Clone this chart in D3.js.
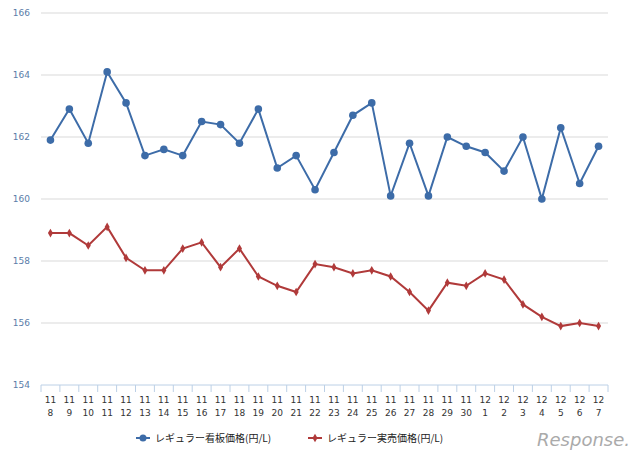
<!DOCTYPE html><html><head><meta charset="utf-8"><script src="https://cdn.jsdelivr.net/npm/d3@7"></script>
<style>body{margin:0;background:#fff}</style></head><body><svg id="c" width="640" height="460"></svg>
<script>
const months=["11","11","11","11","11","11","11","11","11","11","11","11","11","11","11","11","11","11","11","11","11","11","11","12","12","12","12","12","12","12"];
const days=["8","9","10","11","12","13","14","15","16","17","18","19","20","21","22","23","24","25","26","27","28","29","30","1","2","3","4","5","6","7"];
const signPrice=[161.9,162.9,161.8,164.1,163.1,161.4,161.6,161.4,162.5,162.4,161.8,162.9,161.0,161.4,160.3,161.5,162.7,163.1,160.1,161.8,160.1,162.0,161.7,161.5,160.9,162.0,160.0,162.3,160.5,161.7];
const actualPrice=[158.9,158.9,158.5,159.1,158.1,157.7,157.7,158.4,158.6,157.8,158.4,157.5,157.2,157.0,157.9,157.8,157.6,157.7,157.5,157.0,156.4,157.3,157.2,157.6,157.4,156.6,156.2,155.9,156.0,155.9];
const yTicks=[154,156,158,160,162,164,166];
const seriesNames=["レギュラー看板価格(円/L)","レギュラー実売価格(円/L)"];
const svg=d3.select("#c");
const idx=d3.range(days.length);
const x=d3.scaleBand().domain(idx).range([41,608]);
const y=d3.scaleLinear().domain([154,166]).range([385,13]);
const cx=i=>x(i)+x.bandwidth()/2;
svg.append("g").selectAll("line").data(yTicks.slice(1)).join("line")
 .attr("x1",41).attr("x2",608).attr("y1",d=>y(d)).attr("y2",d=>y(d)).attr("stroke","#d9d9d9").attr("stroke-width",1);
svg.append("g").selectAll("text").data(yTicks).join("text").attr("x",30).attr("y",d=>y(d)+3)
 .attr("text-anchor","end").attr("font-family","DejaVu Sans").attr("font-size",9).attr("fill","#5a7ca8").text(d=>d);
svg.append("line").attr("x1",41).attr("x2",608).attr("y1",385).attr("y2",385).attr("stroke","#bcd0e6");
svg.append("g").selectAll("line").data(d3.range(days.length+1)).join("line")
 .attr("x1",i=>41+i*x.step()).attr("x2",i=>41+i*x.step()).attr("y1",385).attr("y2",392).attr("stroke","#bcd0e6");
const lab=svg.append("g").attr("font-family","DejaVu Sans").attr("font-size",9).attr("fill","#333").attr("text-anchor","middle");
lab.selectAll(".m").data(idx).join("text").attr("x",cx).attr("y",403).text(i=>months[i]);
lab.selectAll(".d").data(idx).join("text").attr("x",cx).attr("y",416).text(i=>days[i]);
const line=d3.line().x((d,i)=>cx(i)).y(d=>y(d));
svg.append("path").datum(signPrice).attr("d",line).attr("fill","none").attr("stroke","#3d6ca8").attr("stroke-width",2);
svg.append("g").selectAll("circle").data(signPrice).join("circle").attr("cx",(d,i)=>cx(i)).attr("cy",d=>y(d)).attr("r",3.8).attr("fill","#3d6ca8");
svg.append("path").datum(actualPrice).attr("d",line).attr("fill","none").attr("stroke","#b03a3a").attr("stroke-width",2);
svg.append("g").selectAll("path.m").data(actualPrice).join("path").attr("d",d3.symbol(d3.symbolDiamond,22)())
 .attr("transform",(d,i)=>`translate(${cx(i)},${y(d)})`).attr("fill","#b03a3a");
const lg=svg.append("g").attr("font-family","Noto Sans CJK JP").attr("font-size",10).attr("fill","#222");
lg.append("line").attr("x1",136).attr("x2",150).attr("y1",438).attr("y2",438).attr("stroke","#3d6ca8").attr("stroke-width",2);
lg.append("circle").attr("cx",143).attr("cy",438).attr("r",3.5).attr("fill","#3d6ca8");
lg.append("text").attr("x",155).attr("y",442).text(seriesNames[0]);
lg.append("line").attr("x1",308).attr("x2",322).attr("y1",438).attr("y2",438).attr("stroke","#b03a3a").attr("stroke-width",2);
lg.append("path").attr("d",d3.symbol(d3.symbolDiamond,22)()).attr("transform","translate(315,438)").attr("fill","#b03a3a");
lg.append("text").attr("x",327).attr("y",442).text(seriesNames[1]);
svg.append("text").attr("x",630).attr("y",446).attr("text-anchor","end").attr("font-family","DejaVu Sans").attr("font-style","italic").attr("font-size",18).attr("fill","#aaa").text("Response.");
</script></body></html>
